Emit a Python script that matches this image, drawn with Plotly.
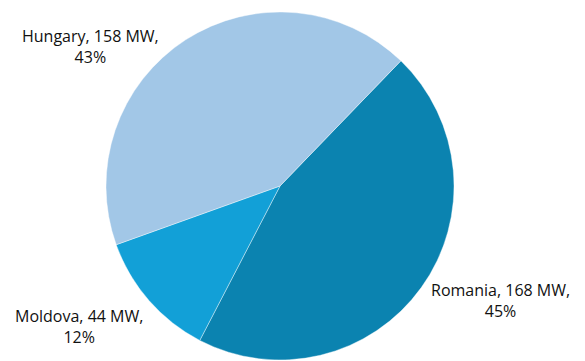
import plotly.graph_objects as go

countries = ["Romania", "Moldova", "Hungary"]
capacity_mw = [168, 44, 158]
percent_labels = ["45%", "12%", "43%"]
colors = ["#0b83b0", "#12a0d7", "#a2c7e7"]

W, H = 585, 361

fig = go.Figure(go.Pie(
    labels=countries,
    values=capacity_mw,
    marker=dict(colors=colors, line=dict(color="white", width=0.4)),
    sort=False,
    direction="clockwise",
    rotation=44,
    textinfo="none",
    hoverinfo="label+value+percent",
    showlegend=False,
    domain=dict(x=[105 / W, 455 / W], y=[1 - 360 / H, 1 - 12 / H]),
))

label_pos = {
    "Romania": (500, 300),
    "Moldova": (79, 326),
    "Hungary": (90, 47),
}
for c, v, p in zip(countries, capacity_mw, percent_labels):
    x, y = label_pos[c]
    fig.add_annotation(
        x=x / W, y=1 - y / H, xref="paper", yref="paper",
        text=f"{c}, {v} MW,<br>{p}", showarrow=False,
        font=dict(family="Open Sans, Liberation Sans, sans-serif", size=16, color="#111111"),
        align="center", xanchor="center", yanchor="middle",
    )

fig.update_layout(
    width=W, height=H,
    margin=dict(l=0, r=0, t=0, b=0),
    paper_bgcolor="white", plot_bgcolor="white",
)
fig.write_html("out.html")
